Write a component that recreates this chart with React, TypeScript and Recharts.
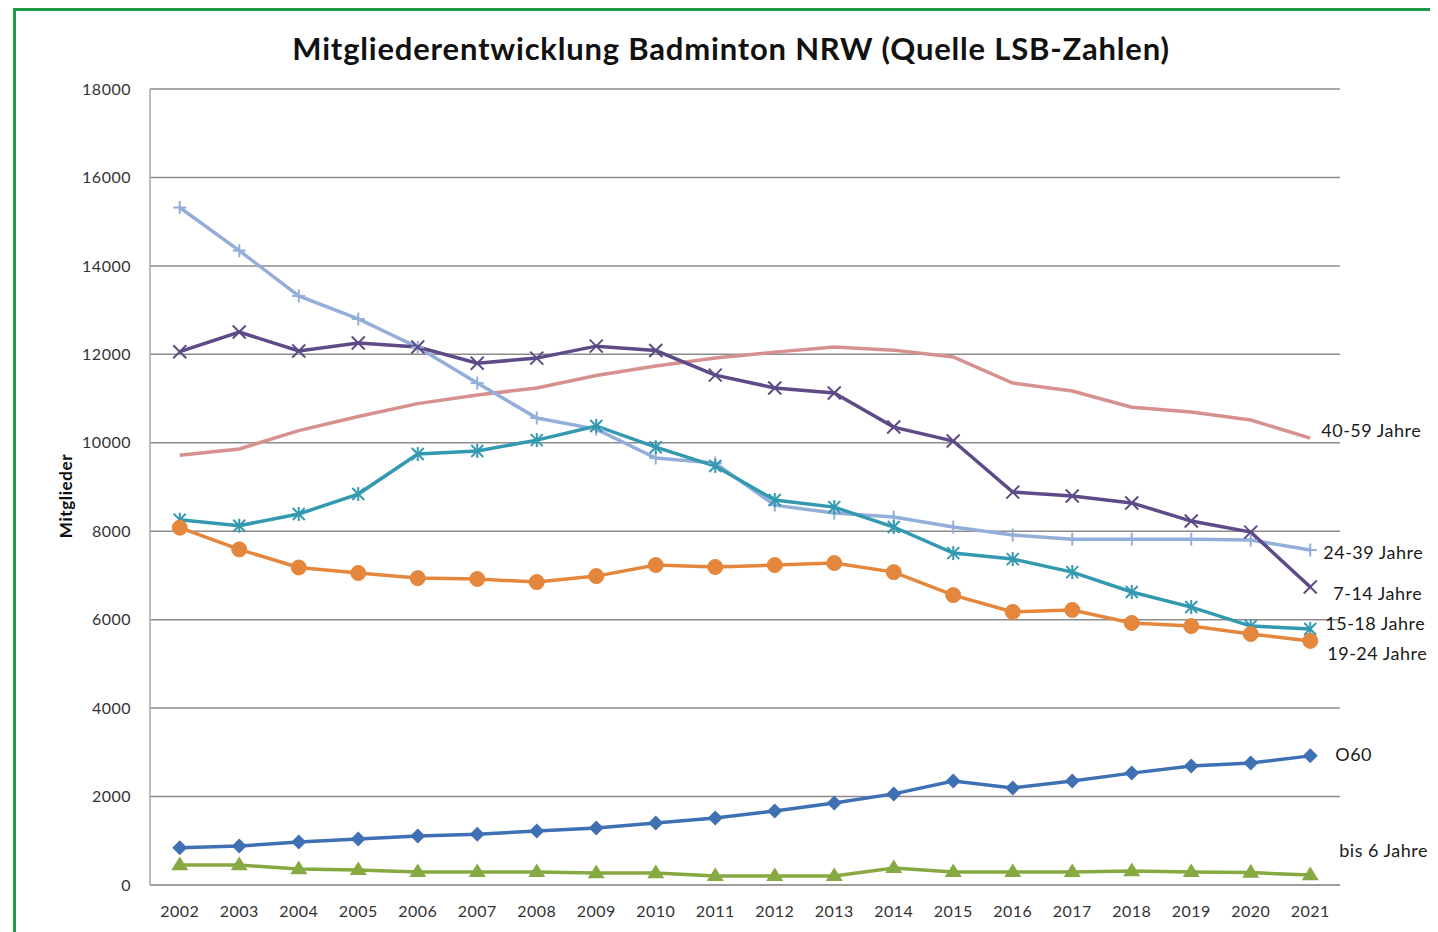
import React from 'react';
import { LineChart, Line, XAxis, YAxis, CartesianGrid } from 'recharts';

const years = ['2002','2003','2004','2005','2006','2007','2008','2009','2010','2011','2012','2013','2014','2015','2016','2017','2018','2019','2020','2021'];
const yTicks = [0, 2000, 4000, 6000, 8000, 10000, 12000, 14000, 16000, 18000];

const bis6 = [450,450,360,340,295,295,295,270,270,205,205,205,385,295,295,295,315,295,280,225];
const o60 = [840,880,970,1040,1110,1150,1220,1290,1400,1515,1675,1855,2060,2350,2195,2350,2530,2690,2760,2920];
const j7_14 = [12060,12505,12075,12255,12165,11800,11915,12185,12085,11530,11240,11125,10355,10040,8885,8795,8640,8230,7980,6740];
const j15_18 = [8260,8125,8390,8840,9745,9815,10060,10380,9900,9475,8705,8545,8095,7505,7370,7075,6625,6285,5855,5790];
const j19_24 = [8080,7590,7180,7055,6940,6920,6850,6985,7235,7190,7235,7280,7075,6555,6175,6220,5925,5855,5675,5520];
const j24_39 = [15320,14345,13320,12800,12160,11350,10560,10310,9655,9540,8590,8410,8320,8095,7915,7820,7820,7820,7800,7575];
const j40_59 = [9720,9860,10275,10595,10885,11080,11240,11520,11735,11915,12050,12165,12095,11940,11350,11170,10805,10695,10515,10105];

const data = years.map((y, i) => ({
  year: y,
  bis6: bis6[i],
  o60: o60[i],
  j7_14: j7_14[i],
  j15_18: j15_18[i],
  j19_24: j19_24[i],
  j24_39: j24_39[i],
  j40_59: j40_59[i],
}));

const FONT = 'Lato, "Open Sans", sans-serif';
const C = {
  bis6: '#87A942',
  o60: '#3F70B3',
  j7_14: '#5E4A86',
  j15_18: '#3399B0',
  j19_24: '#E4873C',
  j24_39: '#93AFD9',
  j40_59: '#D6918E',
};

const PlusDot = (color: string) => (p: any) => {
  const { cx, cy, index } = p;
  if (cx == null || cy == null) return <g key={index} />;
  const s = 6.5;
  return (
    <g key={index}>
      <line x1={cx - s} y1={cy} x2={cx + s} y2={cy} stroke={color} strokeWidth={2} />
      <line x1={cx} y1={cy - s} x2={cx} y2={cy + s} stroke={color} strokeWidth={2} />
    </g>
  );
};
const XDot = (color: string) => (p: any) => {
  const { cx, cy, index } = p;
  if (cx == null || cy == null) return <g key={index} />;
  const s = 6.5;
  return (
    <g key={index}>
      <line x1={cx - s} y1={cy - s} x2={cx + s} y2={cy + s} stroke={color} strokeWidth={2} />
      <line x1={cx - s} y1={cy + s} x2={cx + s} y2={cy - s} stroke={color} strokeWidth={2} />
    </g>
  );
};
const StarDot = (color: string) => (p: any) => {
  const { cx, cy, index } = p;
  if (cx == null || cy == null) return <g key={index} />;
  const s = 6;
  return (
    <g key={index}>
      <line x1={cx - s} y1={cy - s} x2={cx + s} y2={cy + s} stroke={color} strokeWidth={2} />
      <line x1={cx - s} y1={cy + s} x2={cx + s} y2={cy - s} stroke={color} strokeWidth={2} />
      <line x1={cx} y1={cy - s - 1} x2={cx} y2={cy + s + 1} stroke={color} strokeWidth={2} />
    </g>
  );
};
const CircleDot = (color: string) => (p: any) => {
  const { cx, cy, index } = p;
  if (cx == null || cy == null) return <g key={index} />;
  return <circle key={index} cx={cx} cy={cy} r={7.5} fill={color} stroke={color} />;
};
const DiamondDot = (color: string) => (p: any) => {
  const { cx, cy, index } = p;
  if (cx == null || cy == null) return <g key={index} />;
  const s = 7.5;
  return <polygon key={index} points={`${cx},${cy - s} ${cx + s},${cy} ${cx},${cy + s} ${cx - s},${cy}`} fill={color} />;
};
const TriDot = (color: string) => (p: any) => {
  const { cx, cy, index } = p;
  if (cx == null || cy == null) return <g key={index} />;
  const s = 8.5;
  return <polygon key={index} points={`${cx},${cy - s} ${cx + s},${cy + s * 0.6} ${cx - s},${cy + s * 0.6}`} fill={color} />;
};

const endLabel = (text: string, dx: number, dy: number) => (p: any) => {
  const { x, y, index } = p;
  if (index !== years.length - 1) return null;
  return (
    <text key={`lbl-${text}`} x={x + dx} y={y + dy} dy="0.35em" textAnchor="start" fill="#1a1a1a" fontSize={18} letterSpacing={0.5} fontFamily={FONT}>
      {text}
    </text>
  );
};

export default function App() {
  return (
    <div style={{ position: 'relative', width: 1430, height: 924, overflow: 'hidden', background: '#fff' }}>
      <div
        style={{
          position: 'absolute',
          left: 5,
          top: 0,
          width: 1440,
          height: 940,
          borderTop: '3px solid #1C9A45',
          borderLeft: '3px solid #1C9A45',
          boxSizing: 'border-box',
        }}
      />
      <div
        style={{
          position: 'absolute',
          left: 16,
          top: 23,
          width: 1414,
          textAlign: 'center',
          fontFamily: FONT,
          fontWeight: 700,
          fontSize: 31,
          letterSpacing: 0.8,
          lineHeight: '34px',
          color: '#111',
        }}
      >
        Mitgliederentwicklung Badminton NRW (Quelle LSB-Zahlen)
      </div>
      <div style={{ position: 'absolute', left: 0, top: 0 }}>
        <LineChart width={1430} height={924} data={data} margin={{ top: 81, right: 98, bottom: 0, left: 0 }}>
          <CartesianGrid vertical={false} stroke="#8c8c8c" strokeWidth={1.5} />
          <XAxis
            dataKey="year"
            height={47}
            padding={{ left: 29.75, right: 29.75 }}
            tickLine={false}
            tickSize={0}
            tickMargin={21}
            axisLine={{ stroke: '#9a9a9a', strokeWidth: 1.5 }}
            tick={{ fill: '#333', fontSize: 16, letterSpacing: 0.5, fontFamily: FONT }}
            interval={0}
          />
          <YAxis
            width={142}
            domain={[0, 18000]}
            ticks={yTicks}
            interval={0}
            tickLine={false}
            tickSize={0}
            tickMargin={19}
            axisLine={{ stroke: '#a6a6a6', strokeWidth: 1.5 }}
            tick={{ fill: '#333', fontSize: 16, letterSpacing: 0.5, fontFamily: FONT }}
            label={{
              content: () => (
                <text
                  x={58}
                  y={488}
                  transform="rotate(-90 58 488)"
                  textAnchor="middle"
                  dy="0.35em"
                  fontSize={17}
                  letterSpacing={0.6}
                  fontWeight={700}
                  fontFamily={FONT}
                  fill="#111"
                >
                  Mitglieder
                </text>
              ),
            }}
          />
          <Line dataKey="j40_59" stroke={C.j40_59} strokeWidth={3.5} dot={false} isAnimationActive={false} label={endLabel('40-59 Jahre', 11, -7)} />
          <Line dataKey="j24_39" stroke={C.j24_39} strokeWidth={3.5} dot={PlusDot(C.j24_39)} isAnimationActive={false} label={endLabel('24-39 Jahre', 13, 3)} />
          <Line dataKey="j15_18" stroke={C.j15_18} strokeWidth={3.5} dot={StarDot(C.j15_18)} isAnimationActive={false} label={endLabel('15-18 Jahre', 15, -5)} />
          <Line dataKey="j7_14" stroke={C.j7_14} strokeWidth={3.5} dot={XDot(C.j7_14)} isAnimationActive={false} label={endLabel('7-14 Jahre', 23, 7)} />
          <Line dataKey="j19_24" stroke={C.j19_24} strokeWidth={3.5} dot={CircleDot(C.j19_24)} isAnimationActive={false} label={endLabel('19-24 Jahre', 17, 13)} />
          <Line dataKey="o60" stroke={C.o60} strokeWidth={3.5} dot={DiamondDot(C.o60)} isAnimationActive={false} label={endLabel('O60', 25, -1)} />
          <Line dataKey="bis6" stroke={C.bis6} strokeWidth={3.5} dot={TriDot(C.bis6)} isAnimationActive={false} label={endLabel('bis 6 Jahre', 29, -24)} />
        </LineChart>
      </div>
    </div>
  );
}
